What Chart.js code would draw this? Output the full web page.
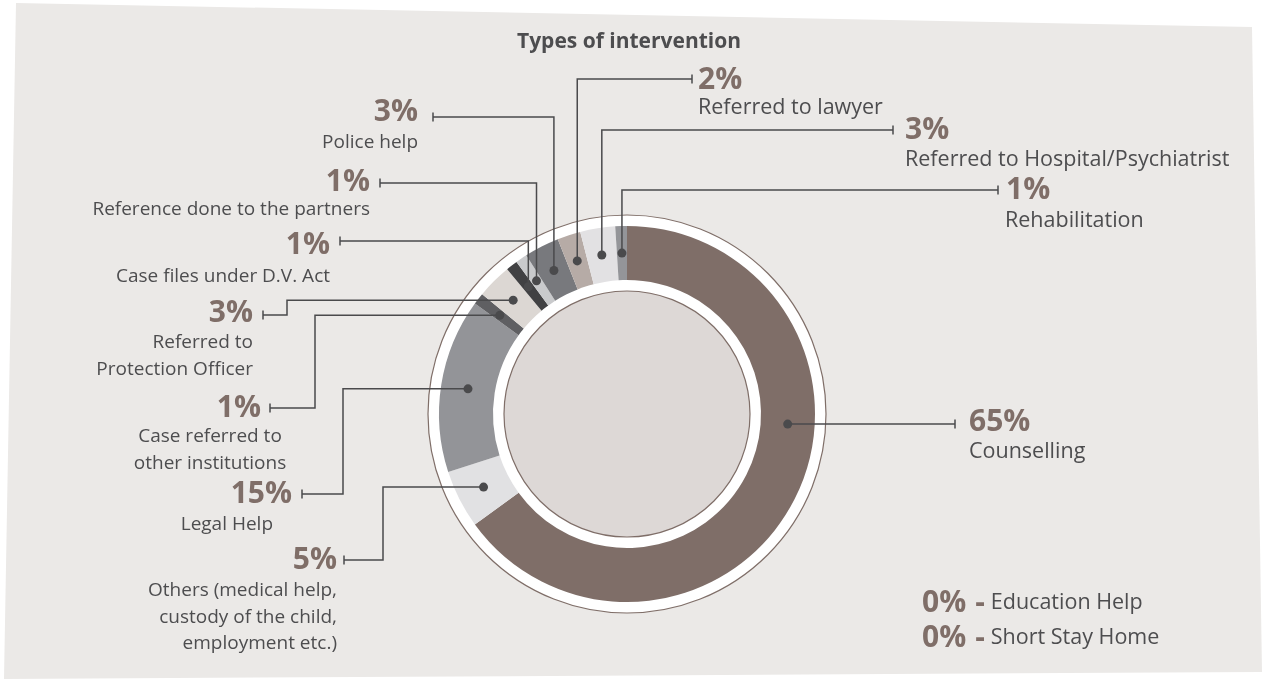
<!DOCTYPE html>
<html>
<head>
<meta charset="utf-8">
<script src="https://cdn.jsdelivr.net/npm/chart.js@4.4.0/dist/chart.umd.min.js"></script>
<style>
  html, body { margin: 0; padding: 0; background: #fff; }
  #wrap { position: relative; width: 1269px; height: 679px; overflow: hidden; }
  #paper {
    position: absolute; left: 0; top: 0; width: 1269px; height: 679px;
    background: #ebe9e7;
    clip-path: polygon(16px 3px, 1252px 27px, 1262px 672px, 4px 679px);
  }
  #myChart { position: absolute; left: 0; top: 0; }
</style>
</head>
<body>
<div id="wrap">
  <div id="paper"></div>
  <canvas id="myChart" width="1269" height="679"></canvas>
</div>
<script>
// data
const categories = [
  'Counselling',
  'Others (medical help,\ncustody of the child,\nemployment etc.)',
  'Legal Help',
  'Case referred to\nother institutions',
  'Referred to\nProtection Officer',
  'Case files under D.V. Act',
  'Reference done to the partners',
  'Police help',
  'Referred to lawyer',
  'Referred to Hospital/Psychiatrist',
  'Rehabilitation'
]
const shares = [65, 5, 15, 1, 3, 1, 1, 3, 2, 3, 1]
const zeroCategories = ['Education Help', 'Short Stay Home']
const zeroShares = [0, 0]

const colors = ['#7f6e68', '#e1e1e3', '#939498', '#5f5f62', '#dcd7d3', '#414143',
  '#c9cacc', '#78797d', '#b6aba6', '#e2e1e3', '#949599']

const BROWN = '#7f6e68'
const INK = '#4d4d4f'
const LINE = '#4a4a4c'
const FONT = '"Open Sans", sans-serif'

// where each callout goes (route: h = straight, hvh = out-down-out, vh = up-then-across)
const callouts = [
  { route: 'h', frac: 0.40, tickX: 955, align: 'left', tx: 969, py: 422, ty: 452, size: 21.5 },
  { route: 'hvh', elbowX: 383, lineY: 560, tickX: 344, align: 'right', tx: 337, py: 560, ty: 591 },
  { route: 'hvh', elbowX: 343, lineY: 494, tickX: 302, align: 'right', tx: 292, py: 494, ty: 525, textX: 273 },
  { route: 'hvh', elbowX: 315, lineY: 408, tickX: 270, align: 'right', tx: 261, py: 408, ty: 437, textAlign: 'center', textX: 210 },
  { route: 'hvh', elbowX: 287, lineY: 315, tickX: 263, align: 'right', tx: 253, py: 313, ty: 343 },
  { route: 'vh', lineY: 241, tickX: 340, align: 'right', tx: 330, py: 245, ty: 277 },
  { route: 'vh', lineY: 183, tickX: 380, align: 'right', tx: 370, py: 182, ty: 210 },
  { route: 'vh', lineY: 117, tickX: 433, align: 'right', tx: 418, py: 112, ty: 143 },
  { route: 'vh', lineY: 79, tickX: 692, align: 'left', tx: 698, py: 80, ty: 108, size: 21.5 },
  { route: 'vh', lineY: 130, tickX: 893, align: 'left', tx: 905, py: 130, ty: 160, size: 21.5 },
  { route: 'vh', lineY: 190, tickX: 998, align: 'left', tx: 1006, py: 190, ty: 221, textX: 1005, size: 21.5 }
]

const rings = {
  id: 'rings',
  beforeDatasetsDraw(chart) {
    const arc = chart.getDatasetMeta(0).data[0]
    const c = chart.ctx
    c.save()
    c.lineWidth = 1.2
    c.strokeStyle = BROWN
    c.fillStyle = '#ffffff'
    c.beginPath(); c.arc(arc.x, arc.y, arc.outerRadius + 11, 0, Math.PI * 2); c.fill(); c.stroke()
    c.fillStyle = '#ddd8d6'
    c.beginPath(); c.arc(arc.x, arc.y, arc.innerRadius - 11, 0, Math.PI * 2); c.fill(); c.stroke()
    c.restore()
  }
}

const callout = {
  id: 'callout',
  afterDatasetsDraw(chart) {
    const c = chart.ctx
    const arcs = chart.getDatasetMeta(0).data
    c.save()
    // title
    c.fillStyle = INK
    c.font = 'bold 21px ' + FONT
    c.textAlign = 'center'
    c.textBaseline = 'middle'
    c.fillText('Types of intervention', 629, 42)

    callouts.forEach((o, i) => {
      const a = arcs[i]
      const ang = a.startAngle + (o.frac || 0.5) * (a.endAngle - a.startAngle)
      const r = (a.innerRadius + a.outerRadius) / 2
      const dx = a.x + r * Math.cos(ang)
      const dy = a.y + r * Math.sin(ang)
      c.strokeStyle = LINE
      c.lineWidth = 1.5
      c.beginPath()
      c.moveTo(dx, dy)
      let endY = dy
      if (o.route === 'hvh') {
        c.lineTo(o.elbowX, dy); c.lineTo(o.elbowX, o.lineY); c.lineTo(o.tickX, o.lineY); endY = o.lineY
      } else if (o.route === 'vh') {
        c.lineTo(dx, o.lineY); c.lineTo(o.tickX, o.lineY); endY = o.lineY
      } else {
        c.lineTo(o.tickX, dy)
      }
      c.stroke()
      c.beginPath(); c.moveTo(o.tickX, endY - 4.5); c.lineTo(o.tickX, endY + 4.5); c.stroke()
      c.fillStyle = LINE
      c.beginPath(); c.arc(dx, dy, 4.5, 0, Math.PI * 2); c.fill()

      c.textBaseline = 'middle'
      c.textAlign = o.align
      c.fillStyle = BROWN
      c.font = 'bold 30px ' + FONT
      c.fillText(shares[i] + '%', o.tx, o.py)
      c.fillStyle = INK
      c.font = (o.size || 19) + 'px ' + FONT
      c.textAlign = o.textAlign || o.align
      categories[i].split('\n').forEach((ln, k) => {
        c.fillText(ln, o.textX || o.tx, o.ty + k * 26.5)
      })
    })

    // zero-share items
    zeroCategories.forEach((name, k) => {
      const y = 603 + k * 35
      let x = 922
      c.textAlign = 'left'
      c.fillStyle = BROWN
      c.font = 'bold 30px ' + FONT
      const pct = zeroShares[k] + '%'
      c.fillText(pct, x, y)
      x += c.measureText(pct).width + 9
      c.fillText('-', x, y)
      x += c.measureText('-').width + 6
      c.fillStyle = INK
      c.font = '21.5px ' + FONT
      c.fillText(name, x, y)
    })
    c.restore()
  }
}

const ctx = document.getElementById('myChart')
new Chart(ctx, {
  type: 'doughnut',
  data: {
    labels: categories,
    datasets: [{
      data: shares,
      backgroundColor: colors,
      borderWidth: 0
    }]
  },
  options: {
    responsive: false,
    animation: false,
    cutout: 134,
    layout: { padding: { left: 439, right: 454, top: 226, bottom: 77 } },
    plugins: {
      legend: { display: false },
      tooltip: { enabled: false },
      title: { display: false }
    }
  },
  plugins: [rings, callout]
})
</script>
</body>
</html>
